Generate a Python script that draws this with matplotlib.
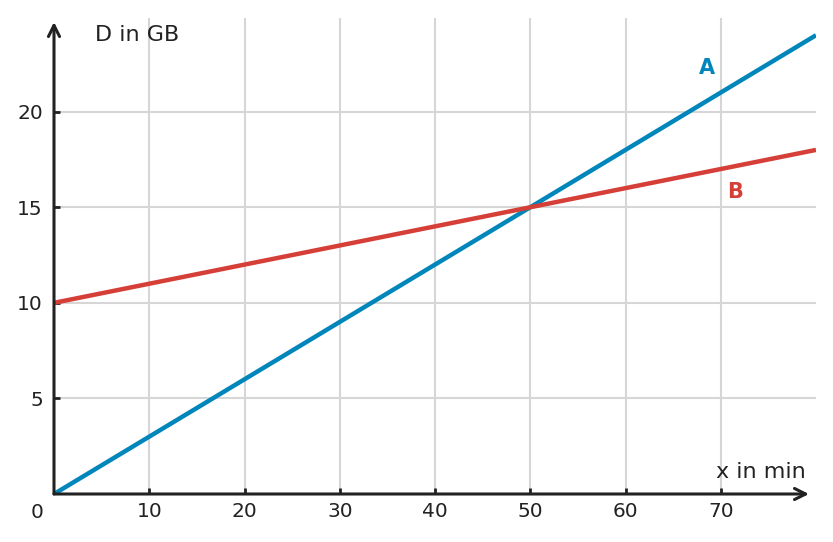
import matplotlib.pyplot as plt

# data
x_vals = [0, 80]
a_vals = [0, 24]
b_vals = [10, 18]
x_ticks = [10, 20, 30, 40, 50, 60, 70]
y_ticks = [5, 10, 15, 20]

blue = "#0086bb"
red = "#d63e38"
dark = "#222222"
grid = "#d6d6d6"

fig = plt.figure(figsize=(8.33, 5.42), dpi=100)
# axes box in pixels: x 54..816, y 18..494 (from top)
ax = fig.add_axes([54 / 833, 1 - 494 / 542, (816 - 54) / 833, (494 - 18) / 542])
ax.set_xlim(0, 80)
ax.set_ylim(0, 24.9)

for s in ax.spines.values():
    s.set_visible(False)

for xt in x_ticks:
    ax.axvline(xt, color=grid, lw=1.5, zorder=0)
for yt in y_ticks:
    ax.axhline(yt, color=grid, lw=1.5, zorder=0)

ax.plot(x_vals, a_vals, color=blue, lw=3.2, solid_capstyle="butt", zorder=3)
ax.plot(x_vals, b_vals, color=red, lw=3.2, solid_capstyle="butt", zorder=3)

ax.set_xticks(x_ticks)
ax.set_yticks(y_ticks)
ax.tick_params(direction="in", length=4, width=2, color=dark, labelsize=14.5,
               labelcolor=dark)
ax.tick_params(axis="x", pad=6)
ax.tick_params(axis="y", pad=8)

# axes with arrows
ax.annotate("", xy=(1.0 - 7 / 762, 0), xytext=(0, 0), xycoords="axes fraction",
            arrowprops=dict(arrowstyle="->", color=dark, lw=2.2,
                            mutation_scale=20, shrinkA=0, shrinkB=0), zorder=4)
ax.annotate("", xy=(0, 1.0 - 4 / 476), xytext=(0, 0), xycoords="axes fraction",
            arrowprops=dict(arrowstyle="->", color=dark, lw=2.2,
                            mutation_scale=20, shrinkA=0, shrinkB=0), zorder=4)

ax.text(-17 / 762, -18 / 476, "0", transform=ax.transAxes, ha="center",
        va="center", fontsize=14.5, color=dark)
ax.text(41 / 762, 1 - 17 / 476, "D in GB", transform=ax.transAxes,
        ha="left", va="center", fontsize=16, color=dark)
ax.text(1 - 10 / 762, 22 / 476, "x in min", transform=ax.transAxes,
        ha="right", va="center", fontsize=16, color=dark)

ax.text(68.6, 22.3, "A", color=blue, fontsize=15, fontweight="bold",
        ha="center", va="center")
ax.text(71.5, 15.8, "B", color=red, fontsize=15, fontweight="bold",
        ha="center", va="center")

fig.savefig("out.png", dpi=100)
